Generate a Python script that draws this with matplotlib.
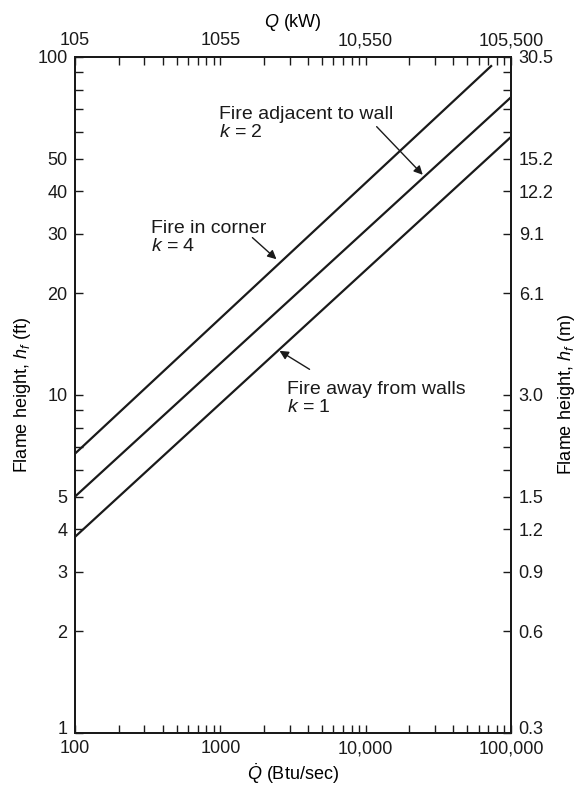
import matplotlib
matplotlib.use("Agg")
import matplotlib.pyplot as plt
from matplotlib.transforms import ScaledTranslation

plt.rcParams['font.family'] = ['Liberation Sans', 'DejaVu Sans']
plt.rcParams['mathtext.fontset'] = 'custom'
plt.rcParams['mathtext.rm'] = 'Liberation Sans'
plt.rcParams['mathtext.it'] = 'Liberation Sans:italic'

# lines (Q in Btu/sec, h in ft)
q_corner = [100, 73000]
h_corner = [6.7, 94]
q_wall = [100, 100000]
h_wall = [5.0, 76]
q_open = [100, 100000]
h_open = [3.8, 58]

# tick values and labels
x_ticks = [m * d for d in [100, 1000, 10000] for m in range(1, 10)] + [100000]
x_labels = {100: '100', 1000: '1000', 10000: '10,000', 100000: '100,000'}
top_labels = {100: '105', 1000: '1055', 10000: '10,550', 100000: '105,500'}
y_ticks = [1, 2, 3, 4, 5, 6, 7, 8, 9, 10, 20, 30, 40, 50, 60, 70, 80, 90, 100]
y_labels = {1: '1', 2: '2', 3: '3', 4: '4', 5: '5', 10: '10', 20: '20',
            30: '30', 40: '40', 50: '50', 100: '100'}
m_labels = {1: '0.3', 2: '0.6', 3: '0.9', 4: '1.2', 5: '1.5', 10: '3.0',
            20: '6.1', 30: '9.1', 40: '12.2', 50: '15.2', 100: '30.5'}

fs = 13
fs_note = 14
ink = '#1a1a1a'
fig = plt.figure(figsize=(5.82, 7.89), dpi=100)
ax = fig.add_axes([0.1289, 0.0713, 0.7491, 0.8565])

ax.plot(q_corner, h_corner, color=ink, lw=1.6)
ax.plot(q_wall, h_wall, color=ink, lw=1.6)
ax.plot(q_open, h_open, color=ink, lw=1.6)

ax.set_xscale('log')
ax.set_yscale('log')
ax.set_xlim(100, 100000)
ax.set_ylim(1, 100)

ax_r = ax.twinx()
ax_r.set_yscale('log')
ax_r.set_ylim(1, 100)
ax_t = ax.twiny()
ax_t.set_xscale('log')
ax_t.set_xlim(100, 100000)

ax.set_xticks(x_ticks)
ax.set_xticklabels([x_labels.get(t, '') for t in x_ticks])
ax.set_yticks(y_ticks)
ax.set_yticklabels([y_labels.get(t, '') for t in y_ticks])
ax_t.set_xticks(x_ticks)
ax_t.set_xticklabels([top_labels.get(t, '') for t in x_ticks])
ax_r.set_yticks(y_ticks)
ax_r.set_yticklabels([m_labels.get(t, '') for t in y_ticks])

for a in [ax, ax_r, ax_t]:
    a.minorticks_off()
    a.tick_params(which='major', direction='in', length=5.5, width=1.0,
                  labelsize=fs, pad=5.5, color=ink, labelcolor=ink)
    for s in a.spines.values():
        s.set_linewidth(1.4)
        s.set_color(ink)
ax.minorticks_off()

# nudge the bottom y labels up a little, like the original
up = ScaledTranslation(0, 4 / 72, fig.dpi_scale_trans)
for lab in [ax.get_yticklabels()[0], ax_r.get_yticklabels()[0]]:
    lab.set_transform(lab.get_transform() + up)

ax.set_xlabel(r'$\dot{Q}$ (Btu/sec)', fontsize=fs, labelpad=3)
ax.set_ylabel(r'Flame height, $h_f$ (ft)', fontsize=fs, labelpad=3)
ax_t.set_xlabel(r'$Q$ (kW)', fontsize=fs, labelpad=4)
ax_r.set_ylabel(r'Flame height, $h_f$ (m)', fontsize=fs, labelpad=2)

arrow = dict(arrowstyle='-|>', color=ink, lw=1.0,
             mutation_scale=13, shrinkA=0, shrinkB=0)

ax.text(984, 71.5, 'Fire adjacent to wall\n$k$ = 2', fontsize=fs_note,
        va='top', ha='left', linespacing=1.1, color=ink)
ax.annotate('', xy=(24700, 44.8), xytext=(11900, 62.2), arrowprops=arrow)

ax.text(334, 33.0, 'Fire in corner\n$k$ = 4', fontsize=fs_note,
        va='top', ha='left', linespacing=1.1, color=ink)
ax.annotate('', xy=(2433, 25.2), xytext=(1662, 29.2), arrowprops=arrow)

ax.text(2853, 11.0, 'Fire away from walls\n$k$ = 1', fontsize=fs_note,
        va='top', ha='left', linespacing=1.1, color=ink)
ax.annotate('', xy=(2553, 13.5), xytext=(4110, 11.9), arrowprops=arrow)

fig.savefig('out.png', dpi=100)
